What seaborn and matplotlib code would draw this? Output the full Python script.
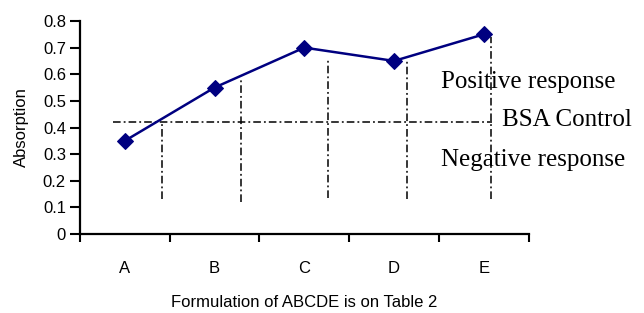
import seaborn as sns
import matplotlib.pyplot as plt
import pandas as pd

# dados
formulations = ['A', 'B', 'C', 'D', 'E']
absorption = [0.35, 0.55, 0.70, 0.65, 0.75]

# linha de controle BSA e as linhas verticais (desenhadas a mao no original)
bsa_level = 0.42
bsa_span = [-0.13, 4.09]
vline_x = [0.41, 1.30, 2.26, 3.14, 4.08]
vline_top = [0.42, 0.58, 0.66, 0.65, 0.74]
vline_bottom = [0.13, 0.12, 0.135, 0.13, 0.13]

df = pd.DataFrame({'Formulation': formulations, 'Absorption': absorption})

sns.set_style('ticks')
plt.rcParams['font.family'] = ['Liberation Sans', 'DejaVu Sans']
for key in ['text.color', 'axes.labelcolor', 'xtick.color', 'ytick.color']:
    plt.rcParams[key] = 'black'

fig = plt.figure(figsize=(6.44, 3.13), dpi=100)
ax = fig.add_axes([0.124, 0.252, 0.697, 0.681])

dashdot = (0, (5.0, 2.0, 1.2, 2.0))

# linha do controle
ax.plot(bsa_span, [bsa_level, bsa_level], color='black', lw=1.1, linestyle=dashdot)
for x, top, bot in zip(vline_x, vline_top, vline_bottom):
    ax.plot([x, x], [bot, top], color='black', lw=1.1, linestyle=dashdot)

sns.lineplot(data=df, x='Formulation', y='Absorption', ax=ax, color='#000080',
             linewidth=1.8, marker='D', markersize=8.5, markeredgecolor='#000080',
             sort=False)

ax.set_xlim(-0.5, 4.5)
ax.set_ylim(0, 0.8)
ax.set_yticks([i / 10 for i in range(9)])
ax.set_yticklabels(['0'] + [f'{i / 10:.1f}' for i in range(1, 9)])
ax.set_xticks(range(5))
ax.set_xticklabels(formulations)
# marcas do eixo x nos limites das categorias (estilo Excel)
ax.set_xticks([i - 0.5 for i in range(6)], minor=True)
ax.tick_params(axis='x', which='major', length=0, pad=19, labelsize=12)
ax.tick_params(axis='x', which='minor', length=6, width=1.5, direction='out')
ax.tick_params(axis='y', length=7, width=1.5, direction='out', labelsize=12, pad=3)

for side in ['top', 'right']:
    ax.spines[side].set_visible(False)
for side in ['left', 'bottom']:
    ax.spines[side].set_linewidth(1.6)
    ax.spines[side].set_color('black')

ax.set_xlabel('Formulation of ABCDE is on Table 2', fontsize=12, labelpad=14)
ax.set_ylabel('Absorption', fontsize=12, labelpad=10)

serif = ['Liberation Serif', 'DejaVu Serif']
ax.text(3.52, 0.57, 'Positive response', family=serif, fontsize=18, va='center',
        ha='left', clip_on=False)
ax.text(4.2, 0.43, 'BSA Control', family=serif, fontsize=18, va='center',
        ha='left', clip_on=False)
ax.text(3.52, 0.28, 'Negative response', family=serif, fontsize=18, va='center',
        ha='left', clip_on=False)

fig.savefig('out.png', dpi=100)
